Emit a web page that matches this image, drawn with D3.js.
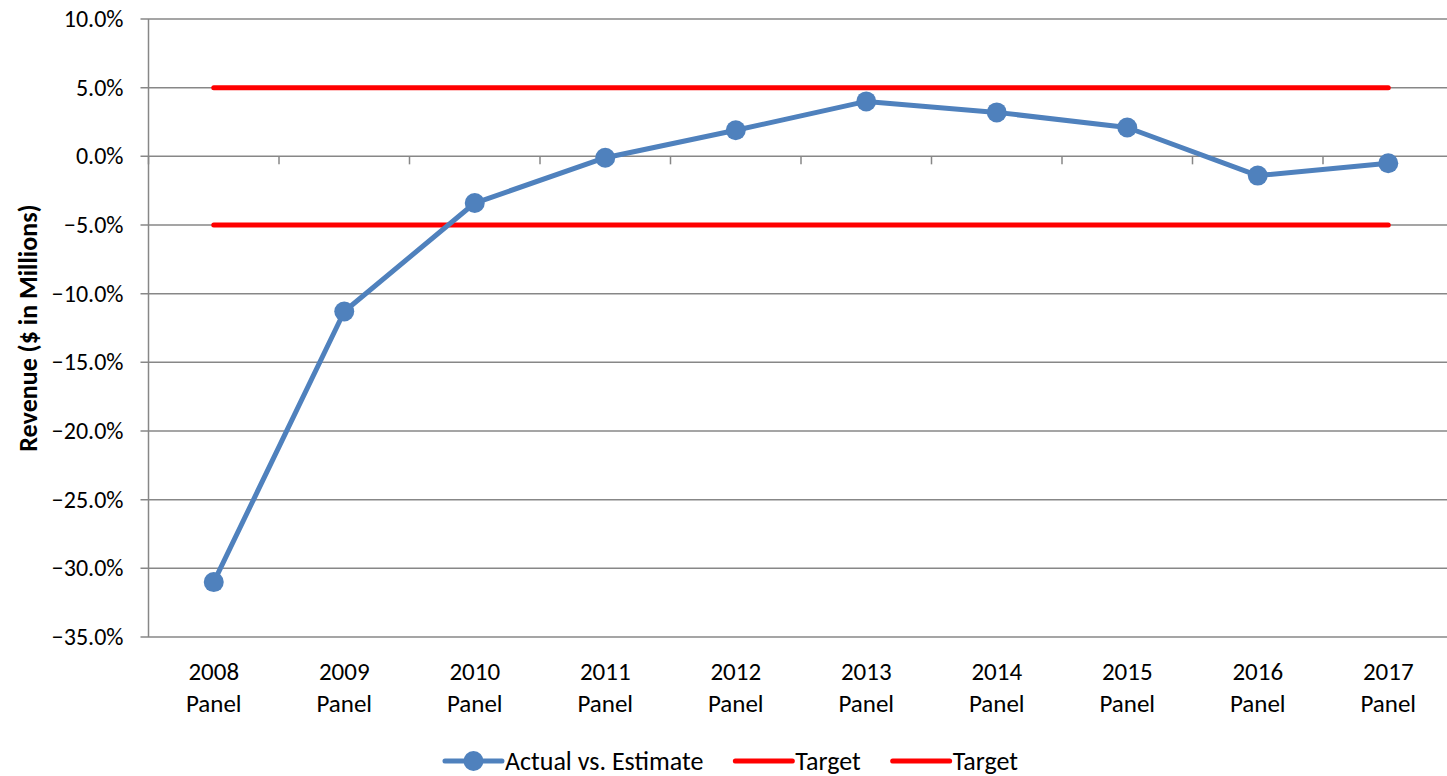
<!DOCTYPE html>
<html>
<head>
<meta charset="utf-8">
<script src="https://cdn.jsdelivr.net/npm/d3@7"></script>
<style>
  body { margin: 0; background: #fff; }
  svg { font-family: Carlito, Calibri, Lato, sans-serif; }
</style>
</head>
<body>
<svg id="chart" width="1447" height="776"></svg>
<script>
// chart data
var years = ['2008', '2009', '2010', '2011', '2012', '2013', '2014', '2015', '2016', '2017'];
var actual = [-31.0, -11.3, -3.4, -0.1, 1.9, 4.0, 3.2, 2.1, -1.4, -0.5];
var targetHigh = [5, 5, 5, 5, 5, 5, 5, 5, 5, 5];
var targetLow = [-5, -5, -5, -5, -5, -5, -5, -5, -5, -5];
var yTicks = [10, 5, 0, -5, -10, -15, -20, -25, -30, -35];
var legendNames = ['Actual vs. Estimate', 'Target', 'Target'];

var svg = d3.select('#chart'),
    padL = 148.5,
    padT = 19,
    plotW = 1305,
    plotH = 618,
    blue = '#4f81bd',
    red = '#ff0000',
    grid = '#878787';

var x = d3.scaleBand().domain(years).range([padL, padL + plotW]);
var y = d3.scaleLinear().domain([-35, 10]).range([padT + plotH, padT]);
var cx = function(i) { return x(years[i]) + x.bandwidth() / 2; };

// horizontal gridlines
svg.append('g').selectAll('line')
    .data(yTicks)
    .enter().append('line')
    .attr('x1', padL - 8).attr('x2', padL + plotW)
    .attr('y1', function(d) { return y(d); })
    .attr('y2', function(d) { return y(d); })
    .attr('stroke', grid).attr('stroke-width', 1.5);

// y axis line
svg.append('line')
    .attr('x1', padL).attr('x2', padL)
    .attr('y1', padT).attr('y2', padT + plotH)
    .attr('stroke', grid).attr('stroke-width', 1.5);

// category ticks on the zero line
svg.append('g').selectAll('line')
    .data(years)
    .enter().append('line')
    .attr('x1', function(d) { return x(d); })
    .attr('x2', function(d) { return x(d); })
    .attr('y1', y(0)).attr('y2', y(0) + 8)
    .attr('stroke', grid).attr('stroke-width', 1.5);

// y tick labels
svg.append('g').selectAll('text')
    .data(yTicks)
    .enter().append('text')
    .attr('x', padL - 25)
    .attr('y', function(d) { return y(d) + 8; })
    .attr('text-anchor', 'end')
    .style('font-size', '24px')
    .attr('fill', '#000')
    .text(function(d) { return d3.format('.1f')(d) + '%'; });

// x labels, two lines
var xl = svg.append('g').selectAll('text')
    .data(years)
    .enter().append('text')
    .attr('text-anchor', 'middle')
    .style('font-size', '25px')
    .attr('fill', '#000');
xl.append('tspan')
    .attr('x', function(d, i) { return cx(i); })
    .attr('y', 680)
    .text(function(d) { return d; });
xl.append('tspan')
    .attr('x', function(d, i) { return cx(i); })
    .attr('y', 712)
    .text('Panel');

// y axis title
svg.append('text')
    .attr('transform', 'translate(37,' + (padT + plotH / 2) + ') rotate(-90)')
    .attr('text-anchor', 'middle')
    .style('font-size', '26px')
    .style('font-weight', 'bold')
    .text('Revenue ($ in Millions)');

// target lines
var line = d3.line()
    .x(function(d, i) { return cx(i); })
    .y(function(d) { return y(d); });

[targetHigh, targetLow].forEach(function(serie) {
    svg.append('path')
        .attr('d', line(serie))
        .attr('fill', 'none')
        .attr('stroke', red)
        .attr('stroke-width', 5)
        .attr('stroke-linecap', 'round');
});

// actual series
svg.append('path')
    .attr('d', line(actual))
    .attr('fill', 'none')
    .attr('stroke', blue)
    .attr('stroke-width', 5)
    .attr('stroke-linejoin', 'round');

svg.append('g').selectAll('circle')
    .data(actual)
    .enter().append('circle')
    .attr('cx', function(d, i) { return cx(i); })
    .attr('cy', function(d) { return y(d); })
    .attr('r', 10)
    .attr('fill', blue);

// legend
var legend = svg.append('g'),
    lx = 0,
    ly = 761;
legendNames.forEach(function(name, i) {
    var g = legend.append('g').attr('transform', 'translate(' + lx + ',0)'),
        col = i === 0 ? blue : red;
    g.append('line')
        .attr('x1', 0).attr('x2', 57)
        .attr('y1', ly).attr('y2', ly)
        .attr('stroke', col).attr('stroke-width', 5)
        .attr('stroke-linecap', 'round');
    if (i === 0) {
        g.append('circle').attr('cx', 28.5).attr('cy', ly).attr('r', 10).attr('fill', blue);
    }
    var t = g.append('text')
        .attr('x', 60).attr('y', ly + 9)
        .style('font-size', '26px')
        .text(name);
    lx += 60 + t.node().getComputedTextLength() + 32;
});
var totalW = lx - 32;
legend.attr('transform', 'translate(' + (731.5 - totalW / 2) + ',0)');
</script>
</body>
</html>
